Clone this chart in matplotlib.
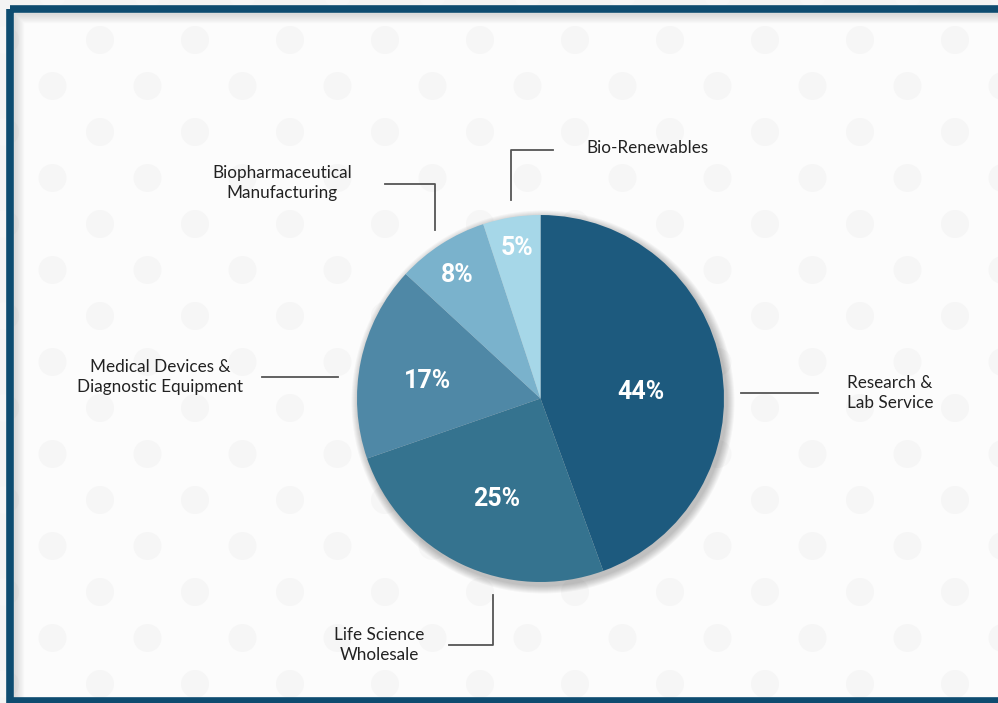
import matplotlib.pyplot as plt
from matplotlib.patches import Rectangle, Circle
import numpy as np

# data
segments = ["Research &\nLab Service", "Life Science\nWholesale",
            "Medical Devices &\nDiagnostic Equipment",
            "Biopharmaceutical\nManufacturing", "Bio-Renewables"]
shares = [44, 25, 17, 8, 5]
colors = ["#1d5a7e", "#35738f", "#4f88a6", "#7ab2cc", "#a6d7e8"]
# where each % label sits, in pie-radius units
pct_xy = [(0.548, 0.035), (-0.237, -0.548), (-0.613, 0.095),
          (-0.455, 0.673), (-0.128, 0.820)]

W, H = 998, 703
fig = plt.figure(figsize=(W / 100, H / 100), dpi=100)
fig.patch.set_facecolor("#f4f4f4")

# background panel, dots, shadow, frame (pixel coords)
bg = fig.add_axes([0, 0, 1, 1])
bg.set_xlim(0, W)
bg.set_ylim(H, 0)
bg.axis("off")
bg.add_patch(Rectangle((14, 13), W, H - 17, facecolor="#fcfcfc", edgecolor="none"))
for row, yy in enumerate(np.arange(-52, H + 40, 46)):
    off = 0 if row % 2 == 0 else 47.5
    for xx in np.arange(-90 + off, W + 40, 95):
        bg.add_patch(Circle((xx, yy), 14, facecolor="#f6f6f6", edgecolor="none"))
for i in range(10):
    bg.add_patch(Rectangle((14 + i, 13 + i), W, H, facecolor="none",
                           edgecolor="#9a9a9a", lw=1, alpha=0.28 * (1 - i / 10)))
bg.add_patch(Rectangle((10.5, 9), W + 20, H - 11.5, facecolor="none",
                       edgecolor="#0e4c70", lw=5.5))

# soft shadow behind pie
for k in range(8):
    bg.add_patch(Circle((543, 402), 183.5 + 8 - k, facecolor="#000000",
                        edgecolor="none", alpha=0.03))

# pie
ax = fig.add_axes([357 / W, 1 - 582 / H, 367 / W, 367 / H])
wedges, texts, autotexts = ax.pie(
    shares, colors=colors, startangle=90, counterclock=False,
    autopct="%.0f%%", radius=1,
    wedgeprops=dict(linewidth=0),
    textprops=dict(color="white", fontsize=18, fontweight="bold",
                   family="Roboto"))
for t, xy in zip(autotexts, pct_xy):
    t.set_position(xy)
    t.set_ha("center")
    t.set_va("center")
ax.set_xlim(-1, 1)
ax.set_ylim(-1, 1)
ax.set_aspect("equal")

# leader lines
lc = "#555555"
leaders = [
    [(741, 393), (818, 393)],
    [(493, 595), (493, 645), (449, 645)],
    [(262, 377), (338, 377)],
    [(435, 230), (435, 184), (385, 184)],
    [(511, 200), (511, 150), (553, 150)],
]
for pts in leaders:
    bg.plot([p[0] for p in pts], [p[1] for p in pts], color=lc, lw=1.3)

label_pos = [(890, 393), (379, 645), (160, 377), (282, 183), (647, 148)]
for txt, (x, y) in zip(segments, label_pos):
    bg.text(x, y, txt, ha="center", va="center", fontsize=12.3,
            color="#222222", family="Lato", linespacing=1.3)

fig.savefig("out.png", dpi=100, facecolor=fig.get_facecolor())
